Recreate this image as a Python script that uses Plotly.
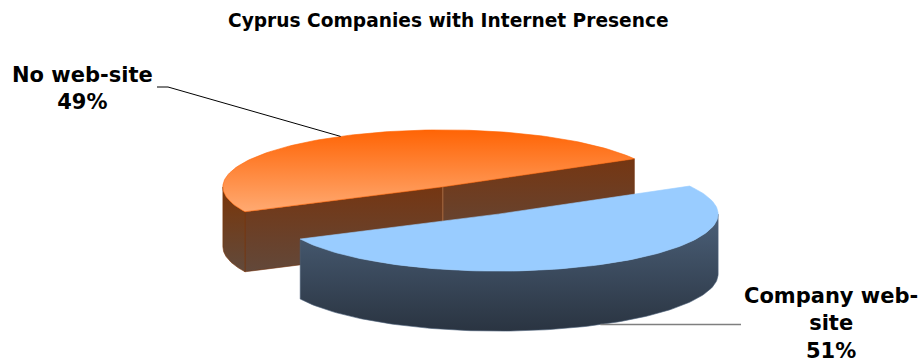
import numpy as np
import plotly.graph_objects as go

# Survey shares
labels = ["Company web-site", "No web-site"]
values = [51, 49]
label_text = ["<b>Company web-<br>site<br>51%</b>", "<b>No web-site<br>49%</b>"]
title_text = "<b>Cyprus Companies with Internet Presence</b>"

W, H = 921, 364

# 3D pie geometry (screen units, y pointing down)
cx0, cy0 = 470.5, 200.5
a, b = 220.0, 57.0
depth = 60.0
explode = 0.27
start_deg = -29.5

styles = {
    "Company web-site": dict(
        top=[[0, "#99CCFF"], [1, "#99CCFF"]],
        side=[[0, "#4B6079"], [1, "#2A3441"]],
        radial=[[0, "#4B6079"], [1, "#2A3441"]],
    ),
    "No web-site": dict(
        top=[[0, "#FF6405"], [1, "#FFAA72"]],
        side=[[0, "#7A3508"], [1, "#614A3C"]],
        radial=[[0, "#753612"], [1, "#62483A"]],
    ),
}

total = float(sum(values))
slices = []
t = start_deg
for lab, v in zip(labels, values):
    span = v / total * 360.0
    t0, t1 = t, t + span
    mid = np.radians((t0 + t1) / 2)
    cx = cx0 + explode * a * np.cos(mid)
    cy = cy0 + explode * b * np.sin(mid)
    slices.append(dict(label=lab, t0=t0, t1=t1, mid=mid, cx=cx, cy=cy))
    t = t1


def rim(s, th_deg, dz=0.0):
    th = np.radians(th_deg)
    return s["cx"] + a * np.cos(th), s["cy"] + b * np.sin(th) + dz


def arc(s, u0, u1, dz=0.0, n=120):
    th = np.linspace(u0, u1, n)
    x, y = rim(s, th, dz)
    return list(x), list(y)


def poly(fig, xs, ys, scale, lo, hi):
    fig.add_trace(go.Scatter(
        x=xs, y=ys, mode="lines", fill="toself",
        line=dict(width=0.6, color=scale[0][1]),
        fillgradient=dict(type="vertical", colorscale=scale, start=lo, stop=hi),
        hoverinfo="skip", showlegend=False,
    ))


fig = go.Figure()

# paint back slice first
for s in sorted(slices, key=lambda d: d["cy"]):
    st = styles[s["label"]]
    cx, cy = s["cx"], s["cy"]
    # radial cut faces that face the viewer
    for th, normal in ((s["t0"], s["t0"] - 90), (s["t1"], s["t1"] + 90)):
        if np.sin(np.radians(normal)) > 0:
            rx, ry = rim(s, th)
            xs = [cx, rx, rx, cx, cx]
            ys = [cy, ry, ry + depth, cy + depth, cy]
            poly(fig, xs, ys, st["radial"], min(ys), max(ys))
            fig.add_trace(go.Scatter(
                x=[cx, cx], y=[cy, cy + depth], mode="lines",
                line=dict(width=1, color="rgba(170,110,70,0.8)"),
                hoverinfo="skip", showlegend=False))
    # curved outer wall, front half only
    for k in range(-1, 3):
        u0 = max(s["t0"], 360 * k)
        u1 = min(s["t1"], 360 * k + 180)
        if u1 > u0:
            tx, ty = arc(s, u0, u1)
            bx, by = arc(s, u1, u0, depth)
            xs, ys = tx + bx + [tx[0]], ty + by + [ty[0]]
            poly(fig, xs, ys, st["side"], min(ty), max(by))
    # top face
    ax_, ay_ = arc(s, s["t0"], s["t1"])
    xs = [cx] + ax_ + [cx]
    ys = [cy] + ay_ + [cy]
    poly(fig, xs, ys, st["top"], min(ys), max(ys))

# leader lines and labels
s_blue, s_orange = slices[0], slices[1]
ox, oy = rim(s_orange, np.degrees(s_orange["mid"]))
fig.add_trace(go.Scatter(
    x=[157, 168, ox], y=[87, 87, oy], mode="lines",
    line=dict(width=1, color="#000000"), hoverinfo="skip", showlegend=False))
bx_, by_ = rim(s_blue, np.degrees(s_blue["mid"]), depth)
fig.add_trace(go.Scatter(
    x=[bx_, 741], y=[by_, by_], mode="lines",
    line=dict(width=1.5, color="#7F7F7F"), hoverinfo="skip", showlegend=False))

font = dict(family="DejaVu Sans", size=21, color="#000000")
fig.add_annotation(x=82, y=88, text=label_text[1], showarrow=False,
                   xanchor="center", yanchor="middle", font=font, align="center")
fig.add_annotation(x=831, y=323, text=label_text[0], showarrow=False,
                   xanchor="center", yanchor="middle", font=font, align="center")
fig.add_annotation(x=448, y=20, text=title_text, showarrow=False,
                   xanchor="center", yanchor="middle",
                   font=dict(family="DejaVu Sans", size=18.6, color="#000000"))

fig.update_layout(
    width=W, height=H, autosize=False,
    margin=dict(l=0, r=0, t=0, b=0),
    paper_bgcolor="#FFFFFF", plot_bgcolor="#FFFFFF",
    xaxis=dict(range=[0, W], visible=False, fixedrange=True),
    yaxis=dict(range=[H, 0], visible=False, fixedrange=True),
    showlegend=False,
)

fig.write_html("out.html")
